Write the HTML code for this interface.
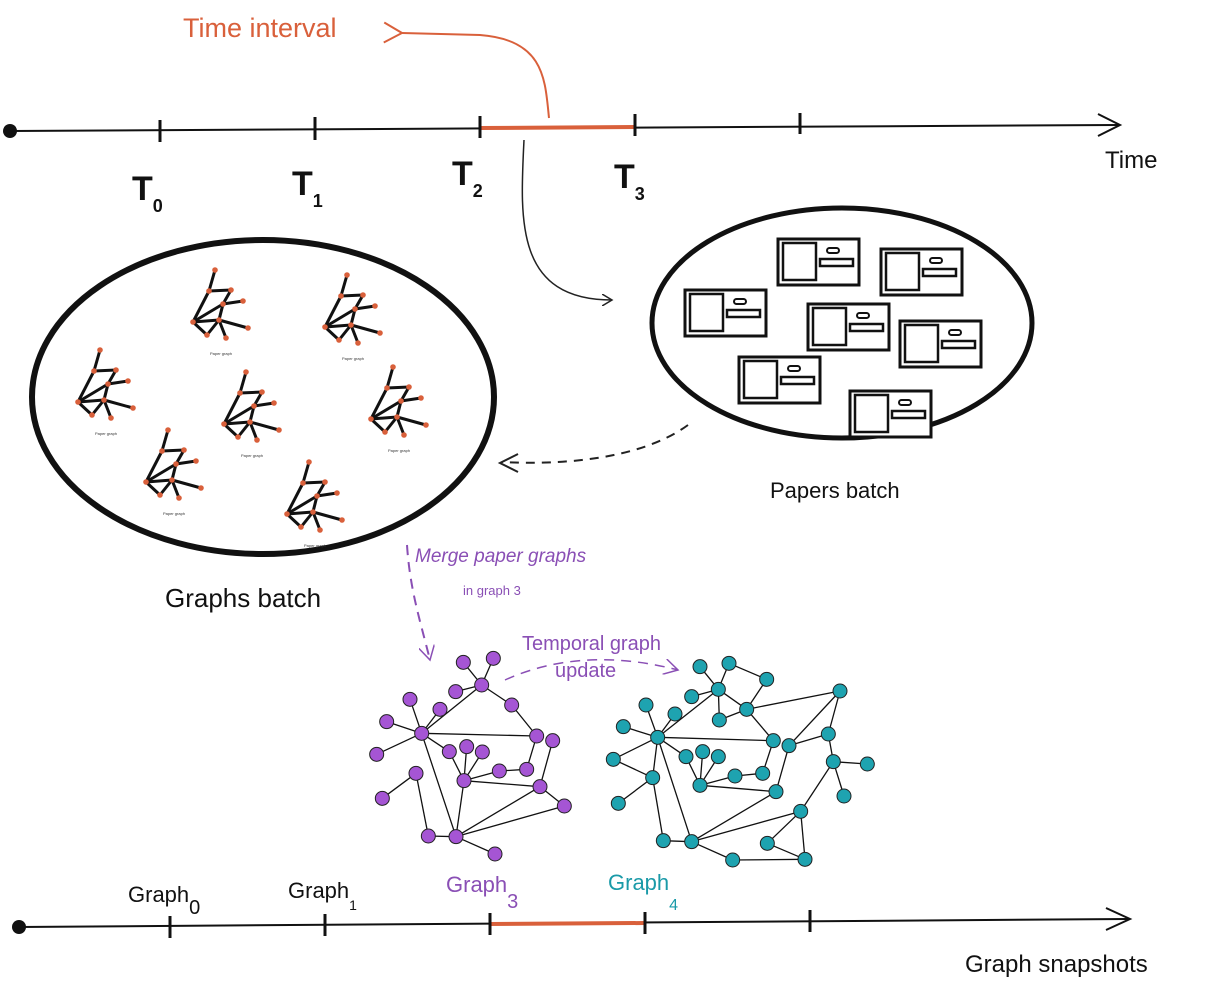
<!DOCTYPE html>
<html><head><meta charset="utf-8"><style>
html,body{margin:0;padding:0;background:#fff;width:1222px;height:990px;overflow:hidden}
svg{display:block}
text{font-family:"Liberation Sans","DejaVu Sans",sans-serif}
</style></head><body>
<svg id="s" width="1222" height="990" viewBox="0 0 1222 990">
<defs>
<marker id="ah" markerWidth="12" markerHeight="12" refX="10" refY="6" orient="auto" markerUnits="userSpaceOnUse"><path d="M0,0 L10,6 L0,12" fill="none" stroke="#222" stroke-width="1.5"/></marker>
<marker id="ahr" markerWidth="24" markerHeight="24" refX="2" refY="12" orient="auto" markerUnits="userSpaceOnUse"><path d="M20,2 L2,12 L20,22" fill="none" stroke="#d9603b" stroke-width="2"/></marker>
<marker id="ahp" markerWidth="16" markerHeight="16" refX="14" refY="8" orient="auto" markerUnits="userSpaceOnUse"><path d="M0,0 L14,8 L0,16" fill="none" stroke="#8a4fb5" stroke-width="1.5"/></marker>
</defs>
<!-- top timeline -->
<g>
<circle cx="10" cy="131" r="7" fill="#111"/>
<line x1="10" y1="131" x2="1118" y2="125" stroke="#111" stroke-width="2"/>
<path d="M1098,114 L1120,125 L1098,136" fill="none" stroke="#111" stroke-width="2"/>
<line x1="480" y1="128" x2="635" y2="127" stroke="#d9603b" stroke-width="4"/>
<line x1="160" y1="120" x2="160" y2="142" stroke="#111" stroke-width="3"/>
<line x1="315" y1="117" x2="315" y2="140" stroke="#111" stroke-width="3"/>
<line x1="480" y1="116" x2="480" y2="138" stroke="#111" stroke-width="3"/>
<line x1="635" y1="114" x2="635" y2="136" stroke="#111" stroke-width="3"/>
<line x1="800" y1="113" x2="800" y2="134" stroke="#111" stroke-width="3"/>
</g>
<g font-size="34" fill="#111">
<text x="132" y="200" font-weight="bold">T<tspan font-size="18" dy="12">0</tspan></text>
<text x="292" y="195" font-weight="bold">T<tspan font-size="18" dy="12">1</tspan></text>
<text x="452" y="185" font-weight="bold">T<tspan font-size="18" dy="12">2</tspan></text>
<text x="614" y="188" font-weight="bold">T<tspan font-size="18" dy="12">3</tspan></text>
</g>
<text x="1105" y="168" font-size="24" fill="#111">Time</text>
<text x="183" y="37" font-size="27" fill="#d9603b">Time interval</text>
<path d="M549,118 C545,80 545,40 480,35 L402,33" fill="none" stroke="#d9603b" stroke-width="2" marker-end="url(#ahr)"/>
<path d="M524,140 C520,220 515,300 612,300" fill="none" stroke="#222" stroke-width="1.5" marker-end="url(#ah)"/>
<path d="M688,425 C640,460 560,465 502,462" fill="none" stroke="#222" stroke-width="2" stroke-dasharray="9,7"/>
<path d="M518,454 L500,463 L518,472" fill="none" stroke="#222" stroke-width="2"/>
<!-- ellipses -->
<ellipse cx="842" cy="323" rx="190" ry="115" fill="none" stroke="#111" stroke-width="5"/>
<ellipse cx="263" cy="397" rx="231" ry="157" fill="none" stroke="#111" stroke-width="6"/>
<text x="770" y="498" font-size="22" fill="#111">Papers batch</text>
<text x="165" y="607" font-size="26" fill="#111">Graphs batch</text>
<g id="cards"></g>
<g id="minis"></g>
<!-- purple arrows -->
<path d="M407,545 C410,590 420,620 430,660" fill="none" stroke="#8a4fb5" stroke-width="2" stroke-dasharray="10,7" marker-end="url(#ahp)"/>
<text x="415" y="562" font-size="19" font-style="italic" fill="#8a4fb5">Merge paper graphs</text>
<text x="463" y="595" font-size="13" fill="#8a4fb5">in graph 3</text>
<path d="M505,680 C560,655 620,655 678,670" fill="none" stroke="#8a4fb5" stroke-width="1.5" stroke-dasharray="10,7" marker-end="url(#ahp)"/>
<text x="522" y="650" font-size="20" fill="#8a4fb5">Temporal graph</text>
<text x="555" y="677" font-size="20" fill="#8a4fb5">update</text>
<g id="big"></g>
<!-- bottom timeline -->
<g>
<circle cx="19" cy="927" r="7" fill="#111"/>
<line x1="19" y1="927" x2="1128" y2="919" stroke="#111" stroke-width="2"/>
<path d="M1106,908 L1130,919 L1106,930" fill="none" stroke="#111" stroke-width="2"/>
<line x1="490" y1="924" x2="645" y2="923" stroke="#d9603b" stroke-width="4"/>
<line x1="170" y1="916" x2="170" y2="938" stroke="#111" stroke-width="3"/>
<line x1="325" y1="914" x2="325" y2="936" stroke="#111" stroke-width="3"/>
<line x1="490" y1="913" x2="490" y2="935" stroke="#111" stroke-width="3"/>
<line x1="645" y1="912" x2="645" y2="934" stroke="#111" stroke-width="3"/>
<line x1="810" y1="910" x2="810" y2="932" stroke="#111" stroke-width="3"/>
</g>
<text x="128" y="902" font-size="22" fill="#111">Graph<tspan font-size="20" dy="12">0</tspan></text>
<text x="288" y="898" font-size="22" fill="#111">Graph<tspan font-size="14" dy="12">1</tspan></text>
<text x="446" y="892" font-size="22" fill="#8a4fb5">Graph<tspan font-size="20" dy="16">3</tspan></text>
<text x="608" y="890" font-size="22" fill="#1a9aa8">Graph<tspan font-size="16" dy="20">4</tspan></text>
<text x="965" y="972" font-size="24" fill="#111">Graph snapshots</text>
</svg>
<script>
const NS='http://www.w3.org/2000/svg';
function mk(tag,attrs,parent){const e=document.createElementNS(NS,tag);for(const k in attrs)e.setAttribute(k,attrs[k]);parent.appendChild(e);return e;}
// paper cards
const cardX=[778,881,685,808,900,739,850];
const cardY=[239,249,290,304,321,357,391];
const cg=document.getElementById('cards');
for(let i=0;i<cardX.length;i++){
  const g=mk('g',{},cg);
  
  
  const x=cardX[i],y=cardY[i];
  mk('rect',{x:x,y:y,width:81,height:46,fill:'#fff',stroke:'#111','stroke-width':3},g);
  mk('rect',{x:x+5,y:y+4,width:33,height:37,fill:'#fff',stroke:'#111','stroke-width':2.5},g);
  mk('rect',{x:x+49,y:y+9,width:12,height:5,rx:2.5,fill:'#fff',stroke:'#111','stroke-width':2},g);
  mk('rect',{x:x+42,y:y+20,width:33,height:7,fill:'#fff',stroke:'#111','stroke-width':2.5},g);
}
// mini paper graphs
const miniOX=[193,325,78,224,371,146,287];
const miniOY=[322,327,402,424,419,482,514];
const mnx=[22,16,38,30,50,0,26,14,33,55];
const mny=[-52,-31,-32,-18,-21,0,-2,13,16,6];
const mE=[[0,1],[1,2],[1,5],[2,3],[3,4],[3,5],[5,6],[3,6],[5,7],[7,6],[6,8],[6,9]];
const mg=document.getElementById('minis');
for(let k=0;k<miniOX.length;k++){
  const g=mk('g',{},mg);
  
  
  const ox=miniOX[k],oy=miniOY[k];
  mE.forEach(([a,b])=>mk('line',{x1:ox+mnx[a],y1:oy+mny[a],x2:ox+mnx[b],y2:oy+mny[b],stroke:'#111','stroke-width':3},g));
  for(let i=0;i<mnx.length;i++)mk('circle',{cx:ox+mnx[i],cy:oy+mny[i],r:2.8,fill:'#d9603b'},g);
  const t=mk('text',{x:ox+17,y:oy+33,'font-size':4,fill:'#333'},g);t.textContent='Paper graph';
}
// big graphs (coords in 3x zoom space, offset 360,640)
const pX=[310,400,365,287,150,240,455,80,185,50,268,320,367,530,578,168,418,500,312,540,67,613,205,288,405];
const pY=[67,55,135,155,178,208,195,245,280,343,335,320,336,288,302,400,393,388,422,440,475,498,588,590,642];
const pE=[[0,2],[1,2],[3,2],[2,8],[2,6],[6,13],[4,8],[5,8],[7,8],[9,8],[8,13],[8,10],[8,23],[15,22],[15,20],[22,23],[23,24],[11,18],[12,18],[10,18],[18,16],[16,17],[17,13],[18,19],[14,19],[19,21],[18,23],[23,19],[23,21]];
const tX=[1020,1107,1075,995,1220,858,945,1160,1078,1440,790,893,1240,1287,1405,978,1028,1075,760,878,1125,1208,1420,1522,1020,1248,1452,775,1322,910,995,1222,1118,1335];
const tY=[80,70,148,170,118,195,222,208,240,153,260,292,302,317,282,350,335,350,358,413,408,400,365,372,436,455,468,490,514,602,605,610,660,658];
const tE=[[0,2],[1,2],[3,2],[2,7],[2,8],[4,7],[1,4],[8,7],[7,9],[7,12],[2,11],[5,11],[6,11],[10,11],[11,12],[11,15],[11,18],[11,30],[11,19],[18,19],[19,27],[19,29],[29,30],[30,32],[32,33],[33,28],[28,31],[31,33],[28,22],[22,23],[22,26],[22,14],[14,9],[13,14],[13,25],[12,21],[21,20],[20,24],[16,24],[17,24],[15,24],[24,25],[30,25],[30,28],[9,13]];
const bg=document.getElementById('big');
function drawGraph(X,Y,E,fill,name){
  const g=mk('g',{},bg);
  
  
  const sx=v=>360+v/3, sy=v=>640+v/3;
  E.forEach(([a,b])=>mk('line',{x1:sx(X[a]),y1:sy(Y[a]),x2:sx(X[b]),y2:sy(Y[b]),stroke:'#111','stroke-width':1.3},g));
  for(let i=0;i<X.length;i++){
    const c=mk('circle',{cx:sx(X[i]),cy:sy(Y[i]),r:7,fill:fill,stroke:'#222','stroke-width':1},g);
    
    
  }
}
drawGraph(pX,pY,pE,'#a555d4','graph-3');
drawGraph(tX,tY,tE,'#1ea3b0','graph-4');
</script>
</body></html>
